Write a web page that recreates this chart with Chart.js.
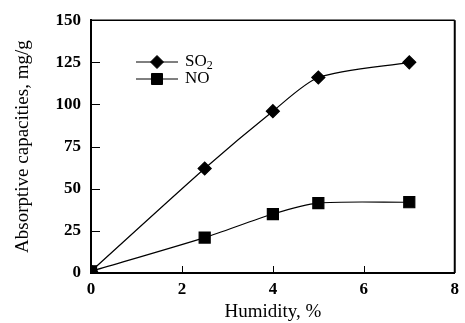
<!DOCTYPE html>
<html lang="en">
<head>
    <meta charset="UTF-8">
    <title>Absorptive capacities vs humidity</title>
    <script src="https://cdn.jsdelivr.net/npm/chart.js"></script>
    <style>
        html, body { margin: 0; padding: 0; background: #fff; }
        .wrap { width: 465px; height: 323px; }
    </style>
</head>
<body>
    <div class="wrap">
        <canvas id="chart" width="465" height="323"></canvas>
    </div>

    <script>
        // data
        const humidity = [0, 2.5, 4, 5, 7];
        const so2Values = [1, 62, 96, 116, 125];
        const noValues = [1, 21, 35, 41.5, 42];
        const xTicks = [0, 2, 4, 6, 8];
        const yTicks = [0, 25, 50, 75, 100, 125, 150];

        const serif = "'Liberation Serif', 'Times New Roman', serif";

        const toPoints = (xs, ys) => xs.map((x, i) => ({ x: x, y: ys[i] }));

        // inward tick marks + top/right frame
        const frame = {
            id: 'frame',
            afterDraw(chart) {
                const ctx = chart.ctx;
                const a = chart.chartArea;
                const xs = chart.scales.x;
                const ys = chart.scales.y;
                ctx.save();
                ctx.strokeStyle = '#000';
                ctx.lineWidth = 1;
                ctx.beginPath();
                xTicks.forEach(v => {
                    const px = Math.round(xs.getPixelForValue(v)) + 0.5;
                    if (v === 0 || v === 8) return;
                    ctx.moveTo(px, a.bottom);
                    ctx.lineTo(px, a.bottom - 7);
                });
                yTicks.forEach(v => {
                    const py = Math.round(ys.getPixelForValue(v)) + 0.5;
                    if (v === 0 || v === 150) return;
                    ctx.moveTo(a.left, py);
                    ctx.lineTo(a.left + 9, py);
                });
                ctx.stroke();
                ctx.lineWidth = 1.5;
                ctx.beginPath();
                ctx.moveTo(a.left, a.top);
                ctx.lineTo(a.right, a.top);
                ctx.stroke();
                ctx.lineWidth = 2;
                ctx.beginPath();
                ctx.moveTo(a.right, a.top);
                ctx.lineTo(a.right, a.bottom);
                ctx.stroke();
                ctx.restore();
            }
        };

        // legend drawn inside the plot, like the original
        const innerLegend = {
            id: 'innerLegend',
            afterDatasetsDraw(chart) {
                const ctx = chart.ctx;
                const rows = [
                    { ds: chart.data.datasets[0], main: 'SO', sub: '2', y: 62 },
                    { ds: chart.data.datasets[1], main: 'NO', sub: '', y: 79 }
                ];
                ctx.save();
                rows.forEach(r => {
                    ctx.strokeStyle = '#000';
                    ctx.lineWidth = 1;
                    ctx.beginPath();
                    ctx.moveTo(136, r.y);
                    ctx.lineTo(178, r.y);
                    ctx.stroke();
                    Chart.helpers.drawPoint(ctx, {
                        pointStyle: r.ds.pointStyle,
                        radius: r.ds.pointRadius,
                        borderWidth: 1
                    }, 157, r.y);
                    ctx.fillStyle = '#000';
                    ctx.textBaseline = 'middle';
                    ctx.font = '17px ' + serif;
                    ctx.fillText(r.main, 185, r.y);
                    if (r.sub) {
                        const w = ctx.measureText(r.main).width;
                        ctx.font = '12px ' + serif;
                        ctx.fillText(r.sub, 185 + w, r.y + 4);
                    }
                });
                ctx.restore();
            }
        };

        const marker = { pointBackgroundColor: '#000', pointBorderColor: '#000', borderColor: '#000', borderWidth: 1.2, tension: 0.25 };

        new Chart(document.getElementById('chart'), {
            type: 'line',
            data: {
                datasets: [
                    Object.assign({
                        label: 'SO2',
                        data: toPoints(humidity, so2Values),
                        pointStyle: 'rectRot',
                        pointRadius: 6.5
                    }, marker),
                    Object.assign({
                        label: 'NO',
                        data: toPoints(humidity, noValues),
                        pointStyle: 'rect',
                        pointRadius: 7.8
                    }, marker)
                ]
            },
            options: {
                responsive: false,
                animation: false,
                devicePixelRatio: 1,
                layout: { padding: { top: 17, right: 8, left: 0, bottom: 0 } },
                plugins: {
                    legend: { display: false },
                    tooltip: { enabled: false }
                },
                scales: {
                    x: {
                        type: 'linear',
                        min: 0,
                        max: 8,
                        afterBuildTicks: s => { s.ticks = xTicks.map(v => ({ value: v })); },
                        grid: { display: false, drawTicks: false },
                        border: { display: true, color: '#000', width: 2 },
                        ticks: { color: '#000', padding: 6, font: { family: serif, size: 17, weight: 'bold' } },
                        title: { display: true, text: 'Humidity, %', color: '#000', padding: { top: 1, bottom: 0 }, font: { family: serif, size: 19 } },
                        afterFit: s => { s.height = 50; }
                    },
                    y: {
                        min: 0,
                        max: 150,
                        afterBuildTicks: s => { s.ticks = yTicks.map(v => ({ value: v })); },
                        grid: { display: false, drawTicks: false },
                        border: { display: true, color: '#000', width: 2 },
                        ticks: { color: '#000', padding: 10, font: { family: serif, size: 17, weight: 'bold' } },
                        title: { display: true, text: 'Absorptive capacities, mg/g', color: '#000', padding: { top: 12, bottom: 4 }, font: { family: serif, size: 19 } },
                        afterFit: s => { s.width = 91; }
                    }
                }
            },
            plugins: [frame, innerLegend]
        });
    </script>
</body>
</html>
